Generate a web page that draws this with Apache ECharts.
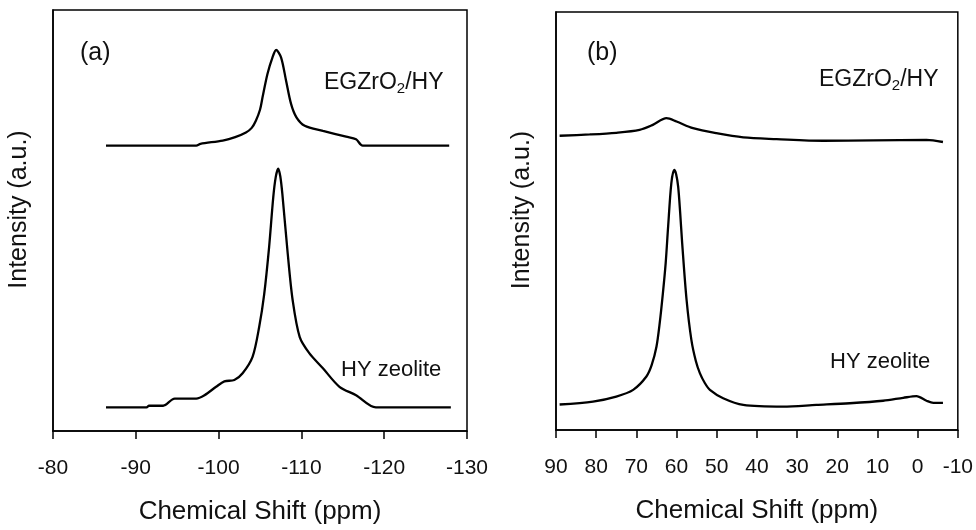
<!DOCTYPE html>
<html>
<head>
<meta charset="utf-8">
<script src="https://cdn.jsdelivr.net/npm/echarts@6/dist/echarts.min.js"></script>
<style>
  html, body { margin: 0; padding: 0; background: #fff; }
  #chart { width: 976px; height: 530px; }
</style>
</head>
<body>
<div id="chart"></div>
<script>
// (a) 29Si spectra: chemical shift (ppm) and stacked intensity (a.u.)
var shiftA_EG = [-86.4, -97.3, -97.8, -100.5, -102.0, -103.3, -104.0, -104.5, -105.0, -105.3, -105.9, -106.5, -106.95, -107.55, -108.15, -108.75, -109.4, -110.4, -112.6, -115.4, -116.6, -117.4, -127.85];
var intensityA_EG = [67.8, 67.8, 68.2, 69.0, 69.8, 70.9, 72.0, 73.7, 76.3, 79.2, 84.8, 88.7, 90.5, 88.7, 83.2, 77.7, 74.5, 72.5, 71.3, 69.9, 69.3, 67.8, 67.8];

var shiftA_HY = [-86.4, -91.3, -91.6, -93.3, -94.7, -97.3, -98.3, -99.7, -100.7, -101.9, -102.9, -104.1, -104.9, -105.5, -106.1, -106.6, -106.9, -107.2, -107.45, -107.7, -108.35, -108.95, -109.8, -110.95, -112.6, -114.6, -116.6, -119.0, -128.05];
var intensityA_HY = [5.6, 5.6, 6.0, 6.0, 7.7, 7.7, 8.5, 10.5, 11.8, 12.1, 13.7, 17.6, 24.7, 32.4, 43.7, 55.5, 60.3, 62.3, 60.5, 56.3, 42.1, 31.0, 22.3, 18.5, 14.9, 10.5, 8.5, 5.6, 5.6];

// (b) 27Al spectra
var shiftB_EG = [89.1, 81.6, 75.0, 69.2, 65.9, 62.5, 60.0, 55.9, 50.1, 43.4, 35.1, 23.5, 11.1, -2.2, -6.3];
var intensityB_EG = [70.4, 70.7, 71.1, 71.8, 73.0, 74.6, 73.8, 72.2, 71.0, 70.0, 69.6, 69.2, 69.3, 69.4, 68.9];

var shiftB_HY = [89.1, 80.8, 75.0, 70.8, 67.5, 66.2, 65.0, 64.2, 63.4, 62.7, 62.1, 61.3, 60.6, 60.1, 59.6, 59.1, 58.6, 57.5, 56.3, 55.2, 54.2, 53.0, 51.7, 48.4, 43.4, 33.5, 25.2, 16.9, 8.6, 3.6, 0.3, -2.2, -3.9, -6.3];
var intensityB_HY = [6.1, 6.8, 8.0, 9.6, 12.8, 15.5, 19.9, 25.5, 32.7, 40.0, 48.6, 59.0, 62.2, 61.2, 58.2, 52.0, 44.7, 31.1, 21.5, 16.5, 13.6, 11.3, 9.6, 7.6, 6.0, 5.6, 6.0, 6.4, 7.0, 7.7, 8.1, 7.0, 6.5, 6.5];

// axis ranges and titles
var axisA = { min: -130, max: -80, interval: 10 };
var axisB = { min: -10, max: 90, interval: 10 };
var xTitle = 'Chemical Shift (ppm)';
var yTitle = 'Intensity (a.u.)';
var sampleTop = 'EGZrO|2|/HY';
var sampleBottom = 'HY zeolite';

var FONT = '"Liberation Sans", Arial, Helvetica, sans-serif';

function pairs(xs, ys) {
  return xs.map(function (x, i) { return [x, ys[i]]; });
}

function xAxisCfg(idx, r) {
  return {
    type: 'value', gridIndex: idx, min: r.min, max: r.max, interval: r.interval,
    inverse: true,
    name: xTitle, nameLocation: 'middle', nameGap: 68,
    nameTextStyle: { fontFamily: FONT, fontSize: 26, color: '#111' },
    axisLine: { show: true, onZero: false, lineStyle: { color: '#000', width: 1.5 } },
    axisTick: { show: true, inside: false, length: 8, lineStyle: { color: '#000', width: 1.5 } },
    axisLabel: { fontFamily: FONT, fontSize: 21, color: '#111', margin: 27 },
    splitLine: { show: false }
  };
}

function yAxisCfg(idx) {
  return {
    type: 'value', gridIndex: idx, min: 0, max: 100,
    name: yTitle, nameLocation: 'middle', nameGap: 21, nameRotate: 90,
    nameTextStyle: { fontFamily: FONT, fontSize: 25, color: '#111', padding: [0, 0, 0, 22] },
    axisLine: { show: true, onZero: false, lineStyle: { color: '#000', width: 1.5 } },
    axisTick: { show: false },
    axisLabel: { show: false },
    splitLine: { show: false }
  };
}

function lineSeries(idx, xs, ys) {
  return {
    type: 'line', xAxisIndex: idx, yAxisIndex: idx,
    data: pairs(xs, ys),
    showSymbol: false, smooth: 0.3,
    lineStyle: { color: '#000', width: 2.3 },
    silent: true, animation: false
  };
}

function richSample(x, y) {
  var parts = sampleTop.split('|');
  return {
    type: 'text', x: x, y: y,
    style: {
      text: '{n|' + parts[0] + '}{s|' + parts[1] + '}{n|' + parts[2] + '}',
      textVerticalAlign: 'middle', verticalAlign: 'middle',
      rich: {
        n: { fontFamily: FONT, fontSize: 23, fill: '#111', lineHeight: 26 },
        s: { fontFamily: FONT, fontSize: 15, fill: '#111', lineHeight: 26, verticalAlign: 'bottom', padding: [9, 0, 0, 0] }
      }
    }
  };
}

function plainText(txt, x, y, size) {
  return {
    type: 'text', x: x, y: y,
    style: { text: txt, fontFamily: FONT, fontSize: size, fill: '#111', textVerticalAlign: 'middle', verticalAlign: 'middle' }
  };
}

var chart = echarts.init(document.getElementById('chart'), null, { renderer: 'canvas' });
chart.setOption({
  backgroundColor: '#fff',
  animation: false,
  grid: [
    { left: 53, right: 509, top: 10, bottom: 99, show: true, borderColor: '#000', borderWidth: 1.5, containLabel: false },
    { left: 556, right: 18, top: 12, bottom: 100, show: true, borderColor: '#000', borderWidth: 1.5, containLabel: false }
  ],
  xAxis: [xAxisCfg(0, axisA), xAxisCfg(1, axisB)],
  yAxis: [yAxisCfg(0), yAxisCfg(1)],
  series: [
    lineSeries(0, shiftA_EG, intensityA_EG),
    lineSeries(0, shiftA_HY, intensityA_HY),
    lineSeries(1, shiftB_EG, intensityB_EG),
    lineSeries(1, shiftB_HY, intensityB_HY)
  ],
  graphic: [
    plainText('(a)', 80, 53, 25),
    richSample(324, 83),
    plainText(sampleBottom, 341, 370, 22),
    plainText('(b)', 587, 53, 25),
    richSample(819, 80),
    plainText(sampleBottom, 830, 362, 22)
  ]
});
</script>
</body>
</html>
